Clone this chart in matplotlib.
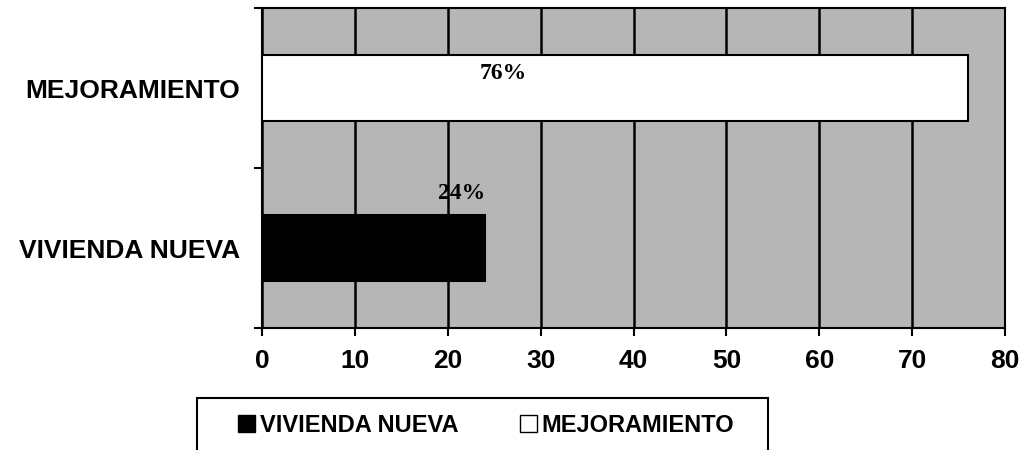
import matplotlib
matplotlib.use("Agg")
import matplotlib.pyplot as plt
from matplotlib.patches import Patch, Rectangle

# data
categories = ["VIVIENDA NUEVA", "MEJORAMIENTO"]
values = [24, 76]
bar_colors = ["#000000", "#ffffff"]
labels = ["24%", "76%"]
label_x = [21.5, 26.0]
label_y = [0.34, 1.09]
xticks = [0, 10, 20, 30, 40, 50, 60, 70, 80]

plt.rcParams['font.family'] = ['Liberation Sans', 'DejaVu Sans']

fig = plt.figure(figsize=(10.24, 4.5), dpi=100)
ax = fig.add_axes([262 / 1024, 1 - 328 / 450, 743 / 1024, 320 / 450])
ax.set_facecolor("#b6b6b6")

ypos = [0, 1]
ax.barh(ypos, values, height=0.41, color=bar_colors, edgecolor="black",
        linewidth=1.5, zorder=3)
for t, lx, ly in zip(labels, label_x, label_y):
    ax.text(lx, ly, t, ha="center", va="center", fontsize=17,
            fontweight="bold", family="Liberation Serif", zorder=4)

ax.set_xlim(0, 80)
ax.set_ylim(-0.5, 1.5)
ax.set_xticks(xticks)
ax.set_xticklabels([str(x) for x in xticks], fontsize=19, fontweight="bold")
ax.xaxis.grid(True, color="black", linewidth=1.8, zorder=1)
ax.set_axisbelow(True)
ax.tick_params(axis="x", direction="out", length=6, width=1.5, pad=9)

ax.set_yticks(ypos)
ax.set_yticklabels(categories, fontsize=19, fontweight="bold")
ax.set_yticks([-0.5, 0.5, 1.5], minor=True)
ax.tick_params(axis="y", which="major", length=0, pad=16)
ax.tick_params(axis="y", which="minor", direction="out", length=6, width=1.5)

for s in ax.spines.values():
    s.set_linewidth(1.5)
    s.set_color("black")

# legend box drawn separately so it can run off the bottom like the scan
fig.patches.append(Rectangle((197 / 1024, -10 / 450), 571 / 1024, 62 / 450,
                             transform=fig.transFigure, facecolor="white",
                             edgecolor="black", linewidth=1.5))
handles = [Patch(facecolor=c, edgecolor="black", label=n)
           for c, n in zip(bar_colors, categories)]
fig.legend(handles=handles, loc="center", bbox_to_anchor=(486 / 1024, 1 - 425 / 450),
           ncol=2, frameon=False, prop={"weight": "bold", "size": 17},
           handlelength=0.72, handleheight=0.72, handletextpad=0.2,
           columnspacing=2.6, borderpad=0.2)

fig.savefig("out.png", dpi=100)
